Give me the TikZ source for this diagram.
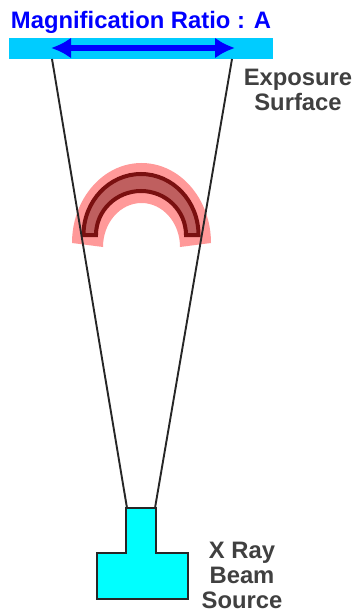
\documentclass[tikz,border=0pt]{standalone}
\usepackage{fontspec}
\setmainfont{Liberation Sans}
\usetikzlibrary{arrows.meta,calc}
\definecolor{surfcyan}{HTML}{00CCFF}
\definecolor{srccyan}{HTML}{00FFFF}
\definecolor{arrowBlue}{HTML}{0000FF}
\definecolor{haloPink}{HTML}{FF9999}
\definecolor{archFill}{HTML}{BF5F5F}
\definecolor{archLine}{HTML}{7A1010}
\definecolor{labelGray}{HTML}{404040}
\tikzset{
  label text/.style={text=labelGray,font=\fontsize{23.8}{25}\selectfont\bfseries,align=center,inner sep=0pt},
  ray/.style={draw=black!85,line width=1.9pt},
}
\begin{document}
\begin{tikzpicture}[x=1pt,y=-1pt]
\useasboundingbox (0,0) rectangle (356,612);
\coordinate (SL) at (52,59); \coordinate (SR) at (232,59);
\coordinate (TL) at (127,508); \coordinate (TR) at (155,508);
\coordinate (AL) at (51,48); \coordinate (AR) at (235,48);
\fill[surfcyan] (9,38) rectangle (273,59);
\draw[arrowBlue,line width=6.5pt,{Latex[length=20pt,width=21pt,sharp]}-{Latex[length=20pt,width=21pt,sharp]}] (AL)--(AR);
\fill[haloPink] (72,243) arc[start angle=180,end angle=0,x radius=69.5,y radius=-80] -- (180,247) arc[start angle=0,end angle=180,x radius=38.5,y radius=-44] -- cycle;
\draw[draw=archLine,fill=archFill,line width=4pt,line join=miter] (83.5,235) arc[start angle=180,end angle=0,x radius=57.5,y radius=-61] -- (186,235) arc[start angle=0,end angle=180,x radius=45,y radius=-44] -- cycle;
\draw[ray] (SL)--(TL); \draw[ray] (SR)--(TR);
\draw[draw=black!85,fill=srccyan,line width=1.9pt,line join=miter] (126,508)--(156,508)--(156,553)--(188,553)--(188,599)--(97,599)--(97,553)--(126,553)--cycle;
\node[anchor=base,inner sep=0pt,text=arrowBlue,font=\fontsize{23.8}{26}\selectfont\bfseries] (title) at (141,29) {Magnification Ratio : A};
\node[label text] (surface) at (298,90) {Exposure\\Surface};
\node[label text] (source) at (242,575) {X Ray\\Beam\\Source};
\end{tikzpicture}
\end{document}
